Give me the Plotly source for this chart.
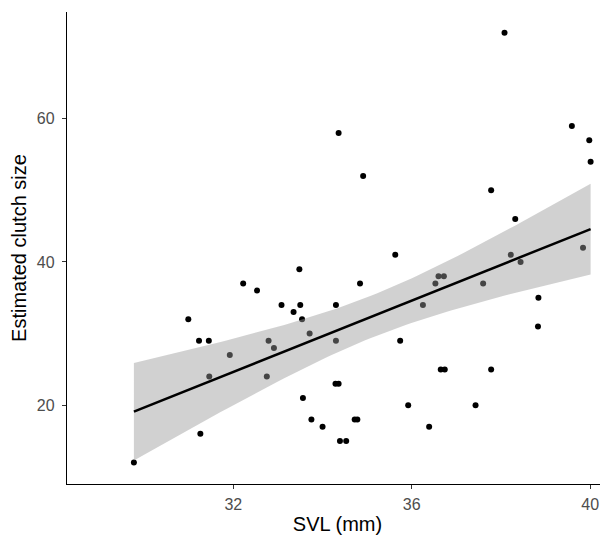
import numpy as np
import plotly.graph_objects as go

svl = [29.77, 31.26, 30.99, 31.23, 31.45, 31.46, 31.92, 32.22, 32.53, 32.79,
       32.91, 32.75, 33.08, 33.35, 33.48, 33.50, 33.54, 33.71, 34.30, 34.30,
       34.29, 34.36, 33.56, 33.75, 34.00, 34.39, 34.53, 34.72, 34.78, 34.84,
       35.63, 35.74, 35.92, 36.39, 36.25, 36.53, 36.60, 36.72, 37.60, 38.22,
       38.44, 39.84, 38.84, 38.83, 36.65, 36.74, 37.78, 37.43, 34.36, 34.91,
       38.08, 37.78, 38.32, 39.59, 39.98, 40.01]
clutch = [12, 16, 32, 29, 29, 24, 27, 37, 36, 29,
          28, 24, 34, 33, 39, 34, 32, 30, 34, 29,
          23, 23, 21, 18, 17, 15, 15, 18, 18, 37,
          41, 29, 20, 17, 34, 37, 38, 38, 37, 41,
          40, 42, 35, 31, 25, 25, 25, 20, 58, 52,
          72, 50, 46, 59, 57, 54]

x_ticks = [32, 36, 40]
y_ticks = [20, 40, 60]

# linear model fit with 95% confidence band (as geom_smooth(method="lm"))
x = np.array(svl)
y = np.array(clutch)
n = len(x)
b1, b0 = np.polyfit(x, y, 1)
resid = y - (b0 + b1 * x)
s = np.sqrt(np.sum(resid ** 2) / (n - 2))
t_crit = 2.0049  # t(0.975, df=54)
xg = np.linspace(x.min(), x.max(), 80)
yg = b0 + b1 * xg
se = s * np.sqrt(1.0 / n + (xg - x.mean()) ** 2 / np.sum((x - x.mean()) ** 2))
upper = yg + t_crit * se
lower = yg - t_crit * se

FONT = "Liberation Sans, Arial, sans-serif"

fig = go.Figure()
fig.add_trace(go.Scatter(
    x=svl, y=clutch, mode="markers",
    marker=dict(color="black", size=6, line=dict(width=0)),
    showlegend=False, hoverinfo="skip"))
fig.add_trace(go.Scatter(
    x=np.concatenate([xg, xg[::-1]]), y=np.concatenate([upper, lower[::-1]]),
    mode="lines", fill="toself", fillcolor="rgba(153,153,153,0.45)",
    line=dict(width=0), showlegend=False, hoverinfo="skip"))
fig.add_trace(go.Scatter(
    x=xg, y=yg, mode="lines", line=dict(color="black", width=2.5),
    showlegend=False, hoverinfo="skip"))

axis_common = dict(
    showgrid=False, zeroline=False, showline=True, linecolor="black",
    linewidth=1.4, ticks="outside", ticklen=4, tickwidth=1.1, tickcolor="#333333",
    tickfont=dict(family=FONT, size=16, color="#4D4D4D"),
    automargin=False,
)
fig.update_xaxes(
    range=[28.27, 40.40], tickvals=x_ticks, ticktext=[str(v) for v in x_ticks],
    ticklabelstandoff=2,
    title=dict(text="SVL (mm)", font=dict(family=FONT, size=20, color="black"), standoff=5),
    **axis_common)
fig.update_yaxes(
    range=[9.0, 74.9], tickvals=y_ticks, ticktext=[str(v) for v in y_ticks],
    ticklabelstandoff=4,
    title=dict(text="Estimated clutch size", font=dict(family=FONT, size=20, color="black"),
               standoff=4),
    **axis_common)
# the page body adds an 8px margin, so the figure is sized to fit the window
fig.update_layout(
    width=600, height=527,
    margin=dict(l=59, r=0, t=4, b=51),
    plot_bgcolor="white", paper_bgcolor="white",
)
fig.write_html("out.html")
